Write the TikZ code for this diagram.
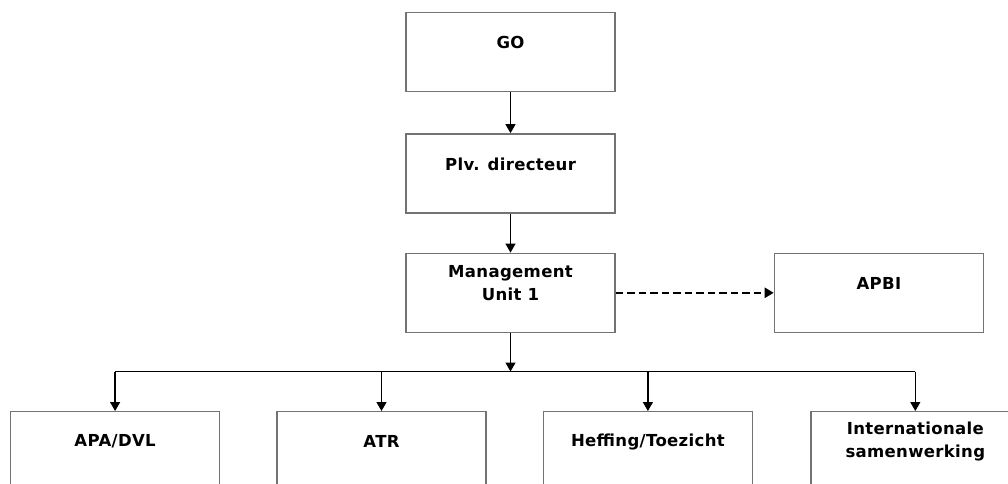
\documentclass[tikz,border=0pt]{standalone}
\usepackage{fontspec}
\setmainfont{DejaVu Sans}[LetterSpace=2]
\usepackage{tikz}
\usetikzlibrary{positioning,arrows.meta}
\definecolor{randgrijs}{RGB}{115,115,115}
\tikzset{pijl/.style={line width=0.7pt, -{Triangle[length=1.8mm, width=2mm]}}}
\tikzset{stippelpijl/.style={line width=1.3pt, dash pattern=on 1.5mm off 0.8mm, -{Triangle[length=1.8mm, width=2mm]}}}
\tikzset{tekst/.style={yshift=1.9mm, align=center, font=\fontsize{9.4pt}{13pt}\selectfont\bfseries}}
\tikzset{eenheid/.style={draw=randgrijs, line width=0.8pt, minimum width=41.8mm, minimum height=15.8mm, label={[tekst]center:#1}}}

\begin{document}
\begin{tikzpicture}
            \useasboundingbox (-102.1mm,10.4mm) rectangle (99.5mm,-86.4mm);
            \node[eenheid=GO] (go) at (0,0) {};
            \node[eenheid={Plv. directeur}, below=8.2mm of go] (plv) {};
            \node[eenheid={Management\\Unit 1}, below=7.8mm of plv] (mu1) {};
            \node[eenheid=APBI, right=31.6mm of mu1] (apbi) {};
            \node[eenheid={APA/DVL}, below left=15.6mm and 37mm of mu1] (apa) {};
            \node[eenheid=ATR, right=11.2mm of apa] (atr) {};
            \node[eenheid={Heffing/Toezicht}, right=11.2mm of atr] (heffing) {};
            \node[eenheid={Internationale\\samenwerking}, right=11.4mm of heffing] (intl) {};
            \coordinate[below=7.7mm of mu1] (bus);

            \draw[pijl] (go) to (plv);
            \draw[pijl] (plv) to (mu1);
            \draw[stippelpijl] (mu1) to (apbi);
            \draw[pijl] (mu1) to (bus);
            \draw[line width=0.7pt] (apa.north |- bus) -- (intl.north |- bus);
            \foreach \n in {apa,atr,heffing,intl}
                \draw[pijl] (\n.north |- bus) to (\n);
        \end{tikzpicture}
\end{document}
